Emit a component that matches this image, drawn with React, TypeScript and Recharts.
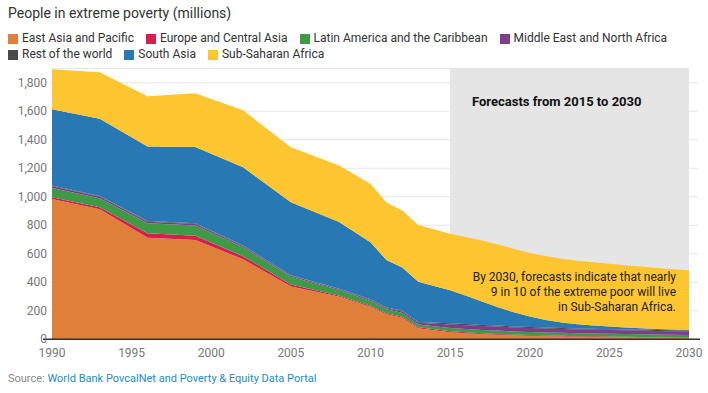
import React from 'react';
import { AreaChart, Area, XAxis, YAxis, CartesianGrid, ReferenceArea } from 'recharts';

const years = [1990, 1993, 1996, 1999, 2002, 2005, 2008, 2010, 2011, 2012, 2013,
  2015, 2016, 2017, 2018, 2019, 2020, 2021, 2022, 2023, 2024, 2025, 2026, 2027, 2028, 2029, 2030];

const eastAsia = [985, 912, 713, 697, 561, 370, 300, 228, 175, 152, 78,
  49, 43, 37, 32, 28, 25, 22, 20, 18, 17, 15, 14, 13, 12, 11, 10];
const europe = [12, 14, 31, 30, 22, 15, 8, 7, 7, 7, 6,
  7, 6, 6, 6, 5, 5, 5, 5, 4, 4, 4, 4, 4, 3, 3, 3];
const latinAmerica = [64, 64, 70, 72, 63, 54, 40, 33, 28, 26, 20,
  24, 24, 23, 23, 22, 22, 21, 21, 20, 20, 20, 19, 19, 19, 18, 18];
const middleEast = [13, 12, 11, 10, 9, 7, 6, 8, 8, 10, 12,
  24, 26, 27, 28, 28, 28, 28, 27, 27, 27, 26, 26, 26, 25, 25, 25];
const restOfWorld = [5, 4, 5, 6, 3, 3, 3, 5, 5, 6, 5,
  8, 8, 8, 7, 7, 7, 7, 7, 7, 6, 6, 6, 6, 6, 6, 6];
const southAsia = [535, 542, 522, 535, 549, 512, 468, 400, 333, 303, 283,
  233, 198, 164, 129, 100, 73, 52, 37, 29, 23, 19, 14, 9, 7, 5, 3];
const subSaharan = [281, 326, 353, 377, 400, 387, 396, 411, 404, 400, 398,
  395, 413, 429, 441, 446, 445, 450, 449, 447, 444, 440, 437, 433, 428, 424, 419];

const xTicks = [1990, 1995, 2000, 2005, 2010, 2015, 2020, 2025, 2030];
const yTicks = [0, 200, 400, 600, 800, 1000, 1200, 1400, 1600, 1800];

const series = [
  { key: 'eap', name: 'East Asia and Pacific', color: '#E07F39', values: eastAsia },
  { key: 'eca', name: 'Europe and Central Asia', color: '#D61F4F', values: europe },
  { key: 'lac', name: 'Latin America and the Caribbean', color: '#3E9A45', values: latinAmerica },
  { key: 'mena', name: 'Middle East and North Africa', color: '#7D3C8C', values: middleEast },
  { key: 'row', name: 'Rest of the world', color: '#4A4A4A', values: restOfWorld },
  { key: 'sa', name: 'South Asia', color: '#2878B4', values: southAsia },
  { key: 'ssa', name: 'Sub-Saharan Africa', color: '#FDC631', values: subSaharan },
];

const data = years.map((year, i) => {
  const row: any = { year };
  series.forEach((s) => { row[s.key] = s.values[i]; });
  return row;
});

// y ticks draw their own small gridline stubs outside the plot, and the dark baseline at 0
const YTick = (props: any) => {
  const { x, y, payload } = props;
  const v = payload.value;
  return (
    <g>
      {v === 0 ? (
        <line x1={x - 9} x2={700} y1={y} y2={y} stroke="#333" strokeWidth={1.5} />
      ) : (
        <>
          <line x1={x - 2} x2={x} y1={y} y2={y} stroke="#e6e6e6" />
          <line x1={689} x2={698} y1={y} y2={y} stroke="#e6e6e6" />
        </>
      )}
      <text x={x - 5} y={v === 0 ? y - 1 : y} dy="0.35em" textAnchor="end" fill="#777" fontSize={12}>
        {v.toLocaleString('en-US')}
      </text>
    </g>
  );
};

export default function App() {
  return (
    <div style={{ position: 'absolute', left: 0, top: 0, width: 708, height: 393, background: '#fff', fontFamily: 'Roboto, sans-serif' }}>
      <div style={{ position: 'absolute', left: 8, top: 5, fontSize: 14, color: '#333' }}>
        People in extreme poverty (millions)
      </div>
      <div style={{ position: 'absolute', left: 8, top: 31, width: 690, display: 'flex', flexWrap: 'wrap', columnGap: 12, rowGap: 1, fontSize: 12, color: '#333', lineHeight: '15px' }}>
        {series.map((s) => (
          <div key={s.key} style={{ display: 'flex', alignItems: 'center' }}>
            <span style={{ display: 'inline-block', width: 10, height: 10, background: s.color, marginRight: 4 }} />
            {s.name}
          </div>
        ))}
      </div>

      <div style={{ position: 'absolute', left: 0, top: 0 }}>
        <AreaChart width={708} height={393} data={data} margin={{ top: 68.5, right: 19, bottom: 33.7, left: 0 }}>
          <CartesianGrid horizontal vertical={false} stroke="#e6e6e6" />
          <ReferenceArea x1={2015} x2={2030} fill="#e5e5e5" fillOpacity={1} stroke="none" />
          <XAxis
            type="number"
            dataKey="year"
            domain={[1990, 2030]}
            ticks={xTicks}
            height={20}
            tickLine={false}
            axisLine={false}
            tickMargin={3}
            tick={{ fill: '#777', fontSize: 12 }}
          />
          <YAxis
            width={52}
            domain={[0, 1900]}
            ticks={yTicks}
            tickSize={0}
            tickMargin={0}
            tickLine={false}
            axisLine={false}
            tick={<YTick />}
          />
          {series.map((s) => (
            <Area
              key={s.key}
              type="linear"
              dataKey={s.key}
              name={s.name}
              stackId="1"
              stroke="none"
              fill={s.color}
              fillOpacity={1}
              isAnimationActive={false}
            />
          ))}
        </AreaChart>
      </div>

      <div style={{ position: 'absolute', left: 472, top: 94, fontSize: 13, fontWeight: 700, color: '#111' }}>
        Forecasts from 2015 to 2030
      </div>
      <div style={{ position: 'absolute', right: 32, top: 270, fontSize: 12, color: '#222', textAlign: 'right', lineHeight: '15px' }}>
        By 2030, forecasts indicate that nearly<br />
        9 in 10 of the extreme poor will live<br />
        in Sub-Saharan Africa.
      </div>
      <div style={{ position: 'absolute', left: 8, top: 372, fontSize: 11, color: '#888' }}>
        Source: <span style={{ color: '#1d8bd1' }}>World Bank PovcalNet and Poverty &amp; Equity Data Portal</span>
      </div>
    </div>
  );
}
